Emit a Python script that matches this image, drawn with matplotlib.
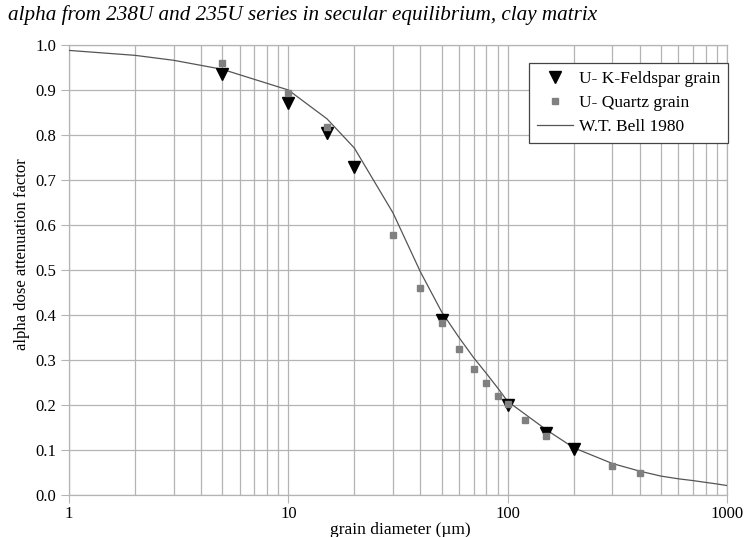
import numpy as np
import matplotlib.pyplot as plt
from matplotlib.ticker import LogLocator, NullFormatter, FixedLocator

plt.rcParams['font.family'] = ['Liberation Serif', 'DejaVu Serif']

# U- K-Feldspar grain
fs_d = [5, 10, 15, 20, 50, 100, 150, 200]
fs_a = [0.936, 0.872, 0.804, 0.729, 0.388, 0.201, 0.138, 0.102]

# U- Quartz grain
qz_d = [5, 10, 15, 30, 40, 50, 60, 70, 80, 90, 100, 120, 150, 300, 400]
qz_a = [0.961, 0.894, 0.818, 0.578, 0.460, 0.383, 0.325, 0.279, 0.248,
        0.221, 0.203, 0.166, 0.132, 0.065, 0.048]

# W.T. Bell 1980
bell_d = [1, 2, 3, 5, 10, 15, 20, 30, 40, 50, 60, 70, 80, 90, 100, 150,
          200, 300, 400, 500, 600, 700, 800, 900, 1000]
bell_a = [0.988, 0.977, 0.966, 0.946, 0.900, 0.836, 0.771, 0.627, 0.496,
          0.407, 0.350, 0.305, 0.270, 0.238, 0.208, 0.145, 0.105, 0.070,
          0.053, 0.042, 0.036, 0.032, 0.028, 0.0245, 0.021]

fig = plt.figure(figsize=(7.46, 5.37), dpi=100)
ax = fig.add_axes([69/746, 1-495/537, (727-69)/746, (495-45)/537])

ax.plot(bell_d, bell_a, color='#555555', lw=0.9, label='W.T. Bell 1980', zorder=3)
ax.plot(fs_d, fs_a, 'v', color='black', ms=9, label='U- K-Feldspar grain', zorder=4)
ax.plot(qz_d, qz_a, 's', color='#808080', ms=5, label='U- Quartz grain', zorder=5)

ax.set_xscale('log')
ax.set_xlim(1, 1000)
ax.set_ylim(0, 1.0)
ax.set_yticks(np.arange(0, 1.01, 0.1))
ax.set_yticklabels(['%.1f' % v for v in np.arange(0, 1.01, 0.1)])
ax.xaxis.set_major_locator(FixedLocator([1, 10, 100, 1000]))
ax.set_xticklabels(['1', '10', '100', '1000'])
ax.xaxis.set_minor_locator(LogLocator(base=10, subs=np.arange(2, 10)))
ax.xaxis.set_minor_formatter(NullFormatter())

ax.grid(True, which='major', color='#b4b4b4', lw=0.9)
ax.grid(True, which='minor', axis='x', color='#b4b4b4', lw=0.9)
for s in ax.spines.values():
    s.set_color('#b4b4b4')
    s.set_linewidth(0.9)
ax.tick_params(which='major', length=6, color='#b4b4b4', labelsize=12, pad=3)
ax.tick_params(which='minor', length=0)
ax.tick_params(axis='x', pad=2)

fig.text(400/746, 1-530/537, 'grain diameter (µm)', fontsize=12.5, ha='center', va='center')
fig.text(22/746, 1-254/537, 'alpha dose attenuation factor', fontsize=12,
         rotation=90, ha='center', va='center')
fig.text(8/746, 1-15/537, 'alpha from 238U and 235U series in secular equilibrium, clay matrix',
         fontsize=15.2, style='italic', va='center', ha='left')

h, l = ax.get_legend_handles_labels()
order = [1, 2, 0]
leg = ax.legend([h[i] for i in order], [l[i] for i in order], loc='upper right',
                bbox_to_anchor=(1.002, 0.96), fontsize=12.5, frameon=True, fancybox=False,
                borderpad=0.45, handlelength=2.1, handletextpad=0.35, labelspacing=0.45,
                framealpha=1, borderaxespad=0)
leg.get_frame().set_edgecolor('#444444')
leg.get_frame().set_linewidth(0.9)

fig.savefig('out.png', dpi=100)
